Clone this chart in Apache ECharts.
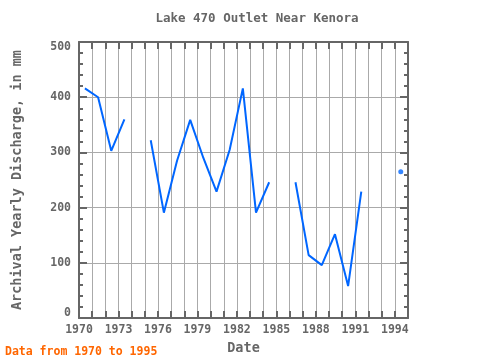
<!DOCTYPE html>
<html><head><meta charset="utf-8">
<script src="https://cdn.jsdelivr.net/npm/echarts@6/dist/echarts.min.js"></script>
<style>html,body{margin:0;padding:0;background:#fff}#c{width:480px;height:360px}</style>
</head><body><div id="c"></div>
<script>
var years = [1970,1971,1972,1973,1974,1975,1976,1977,1978,1979,1980,1981,1982,1983,1984,1985,1986,1987,1988,1989,1990,1991,1992,1993,1994];
var discharge = [416,400,303,360,null,322,191,285,359,290,229,305,416,191,246,null,246,114,96,152,58,229,null,null,265];
var xTickLabels = [1970,1973,1976,1979,1982,1985,1988,1991,1994];
var yTickLabels = [0,100,200,300,400,500];
var dateOffset = 0.45;

var lineData = years.map(function(y,i){return [y+dateOffset, discharge[i]];});
var isolated = [];
years.forEach(function(y,i){
  var v = discharge[i];
  if (v == null) return;
  var p = i>0 ? discharge[i-1] : null, n = i<years.length-1 ? discharge[i+1] : null;
  if (p == null && n == null) isolated.push([y+dateOffset, v]);
});

var font = 'DejaVu Sans Mono';
var gray = '#666';
var chart = echarts.init(document.getElementById('c'), null, {renderer:'canvas'});
chart.setOption({
  animation:false,
  backgroundColor:'#fff',
  title:{text:'Lake 470 Outlet Near Kenora', left:252, textAlign:'center', top:7,
    textStyle:{fontFamily:font, fontSize:12.5, fontWeight:'bold', color:gray}},
  graphic:[{type:'text', left:5, top:346, style:{text:'Data from 1970 to 1995', fill:'#ff6600',
    font:'bold 11.5px "DejaVu Sans Mono"'}}],
  grid:{left:79, right:72, top:42, bottom:38, show:false},
  xAxis:[{type:'value', min:1970, max:1995, interval:1, position:'bottom',
    name:'Date', nameLocation:'middle', nameGap:20,
    nameTextStyle:{fontFamily:font, fontSize:13.5, fontWeight:'bold', color:gray},
    axisLine:{show:true, onZero:false, lineStyle:{color:gray, width:2}},
    axisTick:{show:true, inside:true, length:7, lineStyle:{color:gray, width:2}},
    splitLine:{show:true, lineStyle:{color:'#aaa', width:1}},
    axisLabel:{fontFamily:font, fontSize:11.5, fontWeight:'bold', color:gray, margin:6,
      formatter:function(v){return xTickLabels.indexOf(v)>=0 ? String(v) : '';}}},
   {type:'value', min:1970, max:1995, interval:1, position:'top',
    axisLine:{show:true, onZero:false, lineStyle:{color:gray, width:2}},
    axisTick:{show:true, inside:true, length:7, lineStyle:{color:gray, width:2}},
    splitLine:{show:false}, axisLabel:{show:false}}],
  yAxis:[{type:'value', min:0, max:500, interval:100, position:'left',
    name:'Archival Yearly Discharge, in mm', nameLocation:'middle', nameGap:55,
    nameTextStyle:{fontFamily:font, fontSize:13.5, fontWeight:'bold', color:gray},
    axisLine:{show:true, onZero:false, lineStyle:{color:gray, width:2}},
    axisTick:{show:true, inside:true, length:8, lineStyle:{color:gray, width:2}},
    minorTick:{show:true, splitNumber:5, length:4, lineStyle:{color:gray, width:2}},
    splitLine:{show:true, lineStyle:{color:'#aaa', width:1}},
    axisLabel:{fontFamily:font, fontSize:11.5, fontWeight:'bold', color:gray, margin:8,
      formatter:function(v){
        if (yTickLabels.indexOf(v)<0) return '';
        if (v===0) return '{lo|'+v+'}';
        if (v===500) return '{hi|'+v+'}';
        return String(v);
      },
      rich:{lo:{fontFamily:font, fontSize:11.5, fontWeight:'bold', color:gray, padding:[0,0,10,0]},
            hi:{fontFamily:font, fontSize:11.5, fontWeight:'bold', color:gray, padding:[10,0,0,0]}}}},
   {type:'value', min:0, max:500, interval:100, position:'right',
    axisLine:{show:true, onZero:false, lineStyle:{color:gray, width:2}},
    axisTick:{show:true, inside:true, length:8, lineStyle:{color:gray, width:2}},
    minorTick:{show:true, splitNumber:5, length:4, lineStyle:{color:gray, width:2}},
    splitLine:{show:false}, axisLabel:{show:false}}],
  series:[
    {type:'line', data:lineData, connectNulls:false, showSymbol:false, symbol:'none',
     lineStyle:{color:'#0066ff', width:2}, xAxisIndex:0, yAxisIndex:0},
    {type:'scatter', data:isolated, symbol:'circle', symbolSize:5,
     itemStyle:{color:'#0066ff'}, xAxisIndex:0, yAxisIndex:0}
  ]
});
</script></body></html>
